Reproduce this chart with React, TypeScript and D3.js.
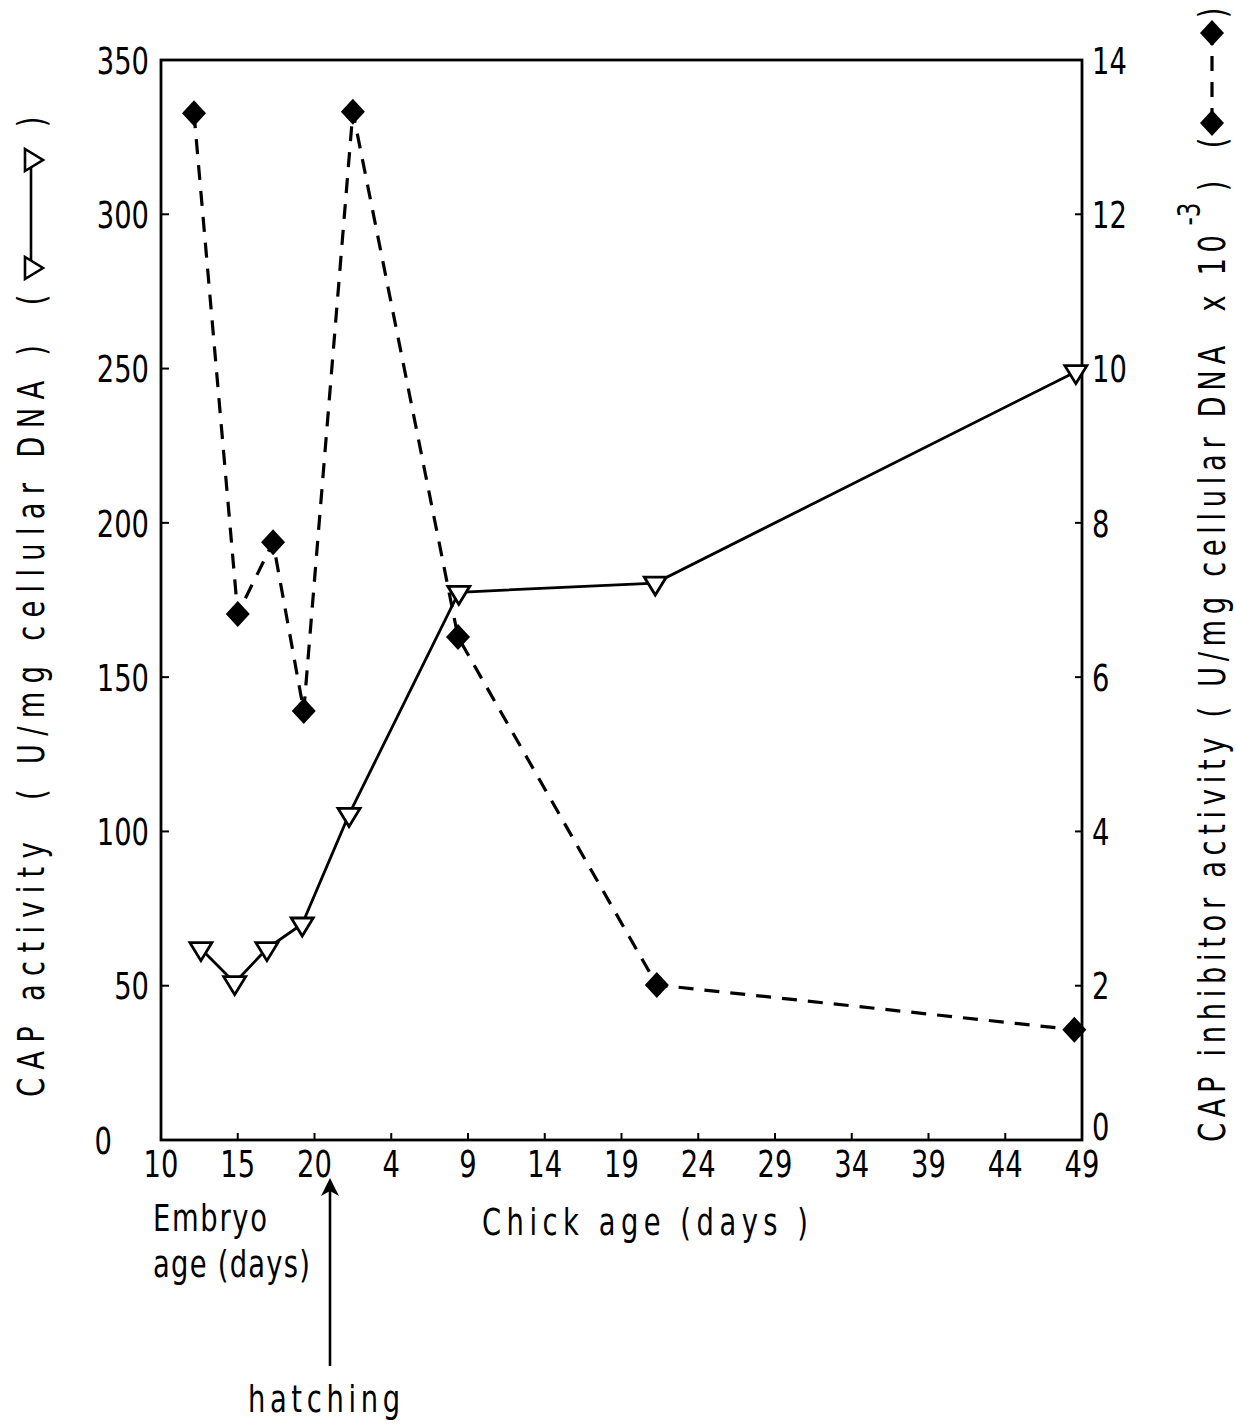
import React from "react";
import * as d3 from "d3";

// ---------- data ----------
const xTickLabels = ["10", "15", "20", "4", "9", "14", "19", "24", "29", "34", "39", "44", "49"];
const xTickPos = [0, 5, 10, 15, 20, 25, 30, 35, 40, 45, 50, 55, 60];
const leftTicks = [0, 50, 100, 150, 200, 250, 300, 350];
const rightTicks = [0, 2, 4, 6, 8, 10, 12, 14];

// stage: "E" = embryo age (days), "C" = chick age (days)
const capStage = ["E", "E", "E", "E", "C", "C", "C", "C"];
const capDay = [12.6, 14.8, 16.9, 19.2, 1.25, 8.4, 21.2, 48.6];
const capValue = [62, 51, 62, 70, 105.5, 177.5, 180.5, 249];

const inhStage = ["E", "E", "E", "E", "C", "C", "C", "C"];
const inhDay = [12.15, 15.0, 17.3, 19.3, 1.5, 8.35, 21.3, 48.5];
const inhValue = [13.31, 6.82, 7.75, 5.56, 13.33, 6.52, 2.01, 1.43];

// embryo day d -> d-10 ; chick day c -> c+11 (hatching = embryo day 21)
const ageToAxis = (stage: string, day: number) => (stage === "E" ? day - 10 : day + 11);

const FONT = "'DejaVu Sans Condensed', 'DejaVu Sans', sans-serif";
const NB = "\u00A0";

type TP = {
  x: number; y: number; rot?: number; anchor?: string; len?: number;
  size?: number; sx?: number; dy?: string; children: React.ReactNode;
};
function T({ x, y, rot = 0, anchor = "start", len, size = 38, sx = 0.8, dy, children }: TP) {
  return (
    <text
      transform={`translate(${x},${y}) rotate(${rot}) scale(${sx},1)`}
      textAnchor={anchor as any}
      fontFamily={FONT}
      fontSize={size}
      fill="#000"
      dy={dy}
      textLength={len ? len / sx : undefined}
      lengthAdjust={len ? "spacing" : undefined}
    >
      {children}
    </text>
  );
}

export default function App() {
  const W = 1236, H = 1426;
  const x = d3.scaleLinear().domain([0, 60]).range([161, 1082]);
  const yL = d3.scaleLinear().domain([0, 350]).range([1140, 60]);
  const yR = d3.scaleLinear().domain([0, 14]).range([1140, 60]);

  const capPts = capDay.map((d, i) => [x(ageToAxis(capStage[i], d)), yL(capValue[i])] as [number, number]);
  const inhPts = inhDay.map((d, i) => [x(ageToAxis(inhStage[i], d)), yR(inhValue[i])] as [number, number]);
  const line = d3.line<[number, number]>();

  const tri = "M-11,-6L11,-6L0,12Z";
  const dia = "M0,-13L12,0L0,13L-12,0Z";
  const triRight = "M-6,-11L-6,11L12,0Z";
  const dash = "15 11";

  return (
    <svg width={W} height={H} style={{ position: "absolute", left: 0, top: 0, background: "#fff" }}>
      <rect x={0} y={0} width={W} height={H} fill="#fff" />
      {/* frame */}
      <rect x={161} y={60} width={1082 - 161} height={1140 - 60} fill="none" stroke="#000" strokeWidth={2.8} />

      {/* x ticks */}
      {xTickPos.map((p, i) => (
        <g key={"xt" + i}>
          <line x1={x(p)} x2={x(p)} y1={1140} y2={1133} stroke="#000" strokeWidth={2} />
          <T x={x(p)} y={1177} anchor="middle">{xTickLabels[i]}</T>
        </g>
      ))}
      {/* left ticks */}
      {leftTicks.map((v) => (
        <g key={"yl" + v}>
          <line x1={161} x2={169} y1={yL(v)} y2={yL(v)} stroke="#000" strokeWidth={2} />
          <T x={v === 0 ? 112 : 149} y={yL(v)} dy="0.36em" anchor="end">{v}</T>
        </g>
      ))}
      {/* right ticks */}
      {rightTicks.map((v) => (
        <g key={"yr" + v}>
          <line x1={1082} x2={1075} y1={yR(v)} y2={yR(v)} stroke="#000" strokeWidth={2} />
          <T x={1092} y={yR(v) - (v === 0 ? 14 : 0)} dy="0.36em">{v}</T>
        </g>
      ))}

      {/* inhibitor series: dashed, filled diamonds */}
      <path d={line(inhPts) || ""} fill="none" stroke="#000" strokeWidth={3.2} strokeDasharray={dash} />
      {/* CAP series: solid, open triangles */}
      <path d={line(capPts) || ""} fill="none" stroke="#000" strokeWidth={2.8} />
      {inhPts.map((p, i) => (
        <path key={"d" + i} d={dia} transform={`translate(${p[0]},${p[1]})`} fill="#000" />
      ))}
      {capPts.map((p, i) => (
        <path key={"t" + i} d={tri} transform={`translate(${p[0]},${p[1]})`} fill="#fff" stroke="#000" strokeWidth={2.8} />
      ))}

      {/* x-axis captions */}
      <T x={153} y={1231} len={114}>Embryo</T>
      <T x={153} y={1277} len={157}>age (days)</T>
      <T x={482} y={1235} len={326}>{`Chick${NB}age (days${NB})`}</T>
      <T x={248} y={1412} len={152}>hatching</T>
      {/* hatching arrow */}
      <line x1={330} x2={330} y1={1190} y2={1366} stroke="#000" strokeWidth={2.6} />
      <path d="M330,1178L321,1196L330,1191L339,1196Z" fill="#000" />

      {/* left title */}
      <T x={44} y={1097} rot={-90} len={752}>{`CAP activity${NB}${NB}(${NB}U/mg cellular DNA${NB})`}</T>
      <T x={44} y={300} rot={-90} anchor="middle">(</T>
      <line x1={31} x2={31} y1={162} y2={268} stroke="#000" strokeWidth={2.6} />
      <path d={triRight} transform="translate(31,268)" fill="#fff" stroke="#000" strokeWidth={2.6} />
      <path d={triRight} transform="translate(31,160)" fill="#fff" stroke="#000" strokeWidth={2.6} />
      <T x={44} y={122} rot={-90} anchor="middle">)</T>

      {/* right title */}
      <T x={1225} y={1142} rot={-90} len={907}>{`CAP inhibitor activity${NB}(${NB}U/mg cellular DNA${NB}${NB}x 10`}</T>
      <T x={1200} y={214} rot={-90} anchor="middle" size={32}>-3</T>
      <T x={1225} y={186} rot={-90} anchor="middle">)</T>
      <T x={1225} y={143} rot={-90} anchor="middle">(</T>
      <line x1={1212} x2={1212} y1={123} y2={33} stroke="#000" strokeWidth={3.2} strokeDasharray={dash} />
      <path d={dia} transform="translate(1212,123)" fill="#000" />
      <path d={dia} transform="translate(1212,33)" fill="#000" />
      <T x={1225} y={13} rot={-90} anchor="middle">)</T>
    </svg>
  );
}
